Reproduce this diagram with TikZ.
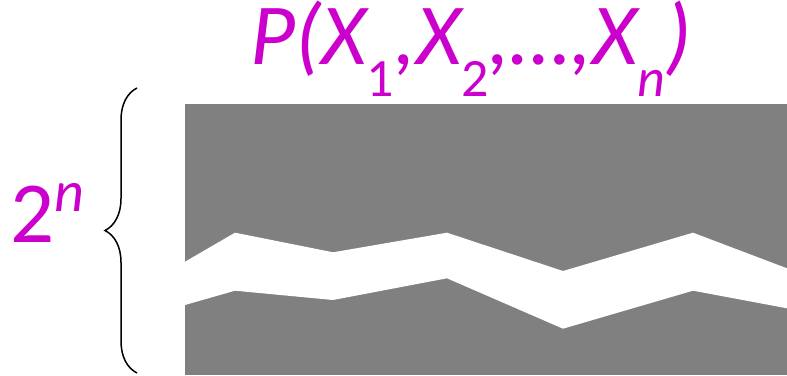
\documentclass[tikz,border=0pt]{standalone}
\usepackage{fontspec}
\setmainfont{Carlito}
\usepackage{tikz}
\usetikzlibrary{decorations.pathreplacing}
\definecolor{joint-magenta}{HTML}{CC00CC}
\definecolor{table-gray}{HTML}{808080}
\newcommand{\lowsub}[1]{\raisebox{-32pt}{\fontsize{54}{54}\selectfont #1}}

\begin{document}
\begin{tikzpicture}[
  x=1pt, y=1pt,
  label/.style={
    inner sep=0pt, text=joint-magenta
  },
  bracket/.style={
    decorate, decoration={brace, amplitude=32pt, aspect=0.5},
    line width=1.5pt, black
  }
]
\useasboundingbox (0,0) rectangle (787,375);

%% Table block with the torn band
\fill[table-gray] (185,0) rectangle (787,271);
\fill[white] (185,113.3) -- (235,142.3) -- (333,122.7) -- (447,142.3)
  -- (563,104) -- (693,142.3) -- (787,106.7)
  -- (787,66.7) -- (693,84.3) -- (563,46.3) -- (447,96.7)
  -- (333,75) -- (235,84.3) -- (185,70) -- cycle;

%% Labels
\node[label, anchor=base west, font=\fontsize{87}{87}\selectfont\itshape] (joint) at (250,310)
  {P(X\lowsub{\upshape 1},X\lowsub{\upshape 2},\dots,X\lowsub{n})};
\node[label, anchor=base west, font=\fontsize{87}{87}\selectfont] (rows) at (10,132)
  {2\raisebox{31pt}{\fontsize{58}{58}\selectfont\itshape n}};

%% Brace
\coordinate (btop) at (137,287);
\coordinate (bbot) at (137,2);
\draw[bracket] (bbot) -- (btop);

\end{tikzpicture}
\end{document}
